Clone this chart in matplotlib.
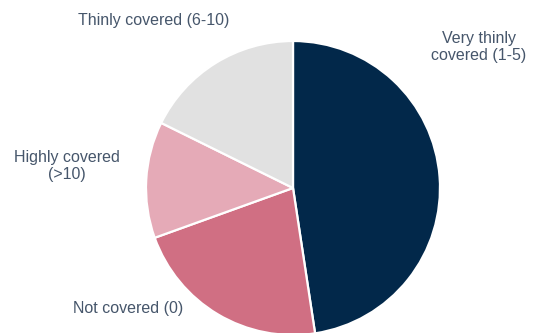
import matplotlib.pyplot as plt

# share of items by coverage band
labels = ["Very thinly\ncovered (1-5)", "Not covered (0)", "Highly covered\n(>10)", "Thinly covered (6-10)"]
shares = [47.6, 21.9, 12.8, 17.7]
colors = ["#02284a", "#d06f83", "#e5aab7", "#e1e1e1"]

W, H = 535, 333
fig = plt.figure(figsize=(W / 100, H / 100), dpi=100)
ax = fig.add_axes([0, 0, 1, 1])

cx, cy, r = 293, H - 188, 147
ax.pie(shares, colors=colors, startangle=90, counterclock=False,
       center=(cx, cy), radius=r,
       wedgeprops=dict(edgecolor="white", linewidth=1.6))

ax.set_xlim(0, W)
ax.set_ylim(0, H)
ax.set_aspect("equal")
ax.axis("off")

txt = dict(fontsize=11.5, color="#46566b", ha="center", va="center",
           family="Liberation Sans", linespacing=1.12)
ax.text(479, H - 47, labels[0], **txt)
ax.text(128, H - 309, labels[1], **txt)
ax.text(67, H - 166, labels[2], **txt)
ax.text(154, H - 21, labels[3], **txt)

fig.savefig("out.png", dpi=100)
